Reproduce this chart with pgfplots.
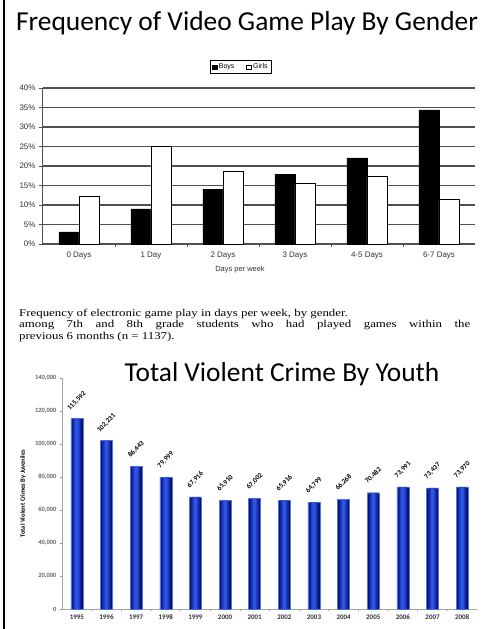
\documentclass[border=0pt]{standalone}
\usepackage{pgfplots}
\usepackage{pgfplotstable}
\pgfplotsset{compat=1.18}
\usepackage{fontspec}
\setmainfont{Liberation Serif}
\newfontfamily\arial{Liberation Sans}
\newfontfamily\calibri{Carlito}

% Frequency of play (percent of students), by gender
\pgfplotstableread{
x boys girls
0 3.1 12.3
1 9.0 24.9
2 14.1 18.5
3 17.9 15.6
4 22.1 17.4
5 34.4 11.5
}\playtable

% Violent crimes by juveniles, 1995-2008
\pgfplotstableread{
x crimes
0 115592
1 102231
2 86443
3 79999
4 67916
5 65910
6 67002
7 65916
8 64799
9 66268
10 70482
11 73991
12 73437
13 73970
}\crimetable

\definecolor{blue1}{RGB}{10,18,95}
\definecolor{blue2}{RGB}{18,36,150}
\definecolor{blue3}{RGB}{30,60,200}
\definecolor{blue4}{RGB}{45,85,225}
\definecolor{gridgray}{RGB}{80,80,80}

\begin{document}
\begin{tikzpicture}
\path[use as bounding box] (0,0) rectangle (485bp,-629bp);
\fill[white] (0,0) rectangle (485bp,-629bp);
\draw[line width=1.2bp] (4bp,0) -- (4bp,-629bp);

% ---------- upper chart ----------
\node[font=\calibri\fontsize{27.5}{27.5}\selectfont] at (247bp,-23bp)
  {Frequency of Video Game Play By Gender};

\begin{axis}[
  at={(43bp,-244bp)}, anchor=south west, scale only axis,
  width=432bp, height=156bp,
  ybar=0pt, bar width=20bp,
  xmin=-0.5, xmax=5.5, ymin=0, ymax=40,
  axis x line=bottom, axis y line=left,
  axis line style={-, line width=1bp, gridgray},
  ytick={0,5,...,40},
  yticklabel={\pgfmathprintnumber{\tick}\%},
  xtick={0,...,5},
  xticklabels={0 Days,1 Day,2 Days,3 Days,4-5 Days,6-7 Days},
  minor xtick={0.5,1.5,...,4.5},
  major x tick style={draw=none},
  minor tick length=3bp, major tick length=4bp,
  tick align=outside,
  tick style={gridgray, line width=0.8bp},
  ymajorgrids, grid style={gridgray, line width=1.3bp},
  ticklabel style={font=\arial\fontsize{8}{8}\selectfont, text=black!80},
  /pgf/number format/assume math mode=true,
  legend columns=2,
  legend style={at={(0.458,1.135)}, anchor=center,
    font=\arial\fontsize{7}{7}\selectfont, draw=black, line width=0.8bp,
    inner sep=1.5bp, /tikz/every even column/.append style={column sep=10bp}},
  legend image code/.code={\draw[#1, line width=0.4bp] (0bp,-2.2bp) rectangle (4.4bp,2.2bp);},
]
\addplot[fill=black, draw=black] table[x=x, y=boys] {\playtable};
\addplot[fill=white, draw=black, line width=0.8bp] table[x=x, y=girls] {\playtable};
\legend{Boys, Girls}
\end{axis}

\node[font=\arial\fontsize{7.5}{7.5}\selectfont, text=black!80] at (240bp,-270bp) {Days per week};

% caption (set in a widened serif)
\begin{scope}[every node/.style={anchor=base west, inner sep=0pt,
    font=\fontsize{10.5}{10.5}\selectfont}]
\node at (19bp,-316bp) {\scalebox{1.23}[1]{Frequency of electronic game play in days per week, by gender.}};
\node at (19bp,-327.7bp) {\scalebox{1.23}[1]{\makebox[366.7bp][s]{among 7th and 8th grade students who had played games within the}}};
\node at (19bp,-339.4bp) {\scalebox{1.23}[1]{previous 6 months (n = 1137).}};
\end{scope}

% ---------- lower chart ----------
\node[font=\calibri\fontsize{27.5}{27.5}\selectfont] at (282bp,-374bp)
  {Total Violent Crime By Youth};

\begin{axis}[
  at={(62bp,-609bp)}, anchor=south west, scale only axis,
  width=415bp, height=231bp,
  ybar,
  xmin=-0.5, xmax=13.5, ymin=0, ymax=140000,
  axis x line=bottom, axis y line=left,
  axis line style={-, line width=0.6bp, black!35},
  ytick={0,20000,...,140000},
  scaled y ticks=false,
  xtick={0,...,13},
  xticklabels={1995,1996,1997,1998,1999,2000,2001,2002,2003,2004,2005,2006,2007,2008},
  minor xtick={0.5,1.5,...,12.5},
  major x tick style={draw=none},
  minor tick length=2bp, major tick length=2bp,
  tick align=outside,
  tick style={black!40, line width=0.6bp},
  yticklabel style={/pgf/number format/fixed, /pgf/number format/1000 sep={,},
    font=\calibri\bfseries\fontsize{6.5}{6.5}\selectfont, text=black!60},
  xticklabel style={font=\calibri\bfseries\fontsize{7}{7}\selectfont, text=black!80},
  /pgf/number format/assume math mode=true,
  ylabel={Total Violent Crimes By Juveniles},
  ylabel style={at={(axis description cs:-0.094,0.5)}, anchor=center,
    font=\calibri\bfseries\fontsize{6.5}{6.5}\selectfont},
]
% each bar is built from nested strips, dark at the edges and bright in the middle
\addplot[bar shift=0pt, bar width=12bp, fill=blue1, draw={rgb,255:red,80;green,120;blue,230}, line width=0.4bp,
  nodes near coords={\pgfmathprintnumber[fixed,1000 sep={,}]{\pgfplotspointmeta}},
  nodes near coords style={yshift=17bp, rotate=45, anchor=center,
    font=\calibri\bfseries\fontsize{7}{7}\selectfont, text=black}]
  table[x=x, y=crimes] {\crimetable};
\addplot[bar shift=0pt, bar width=9bp, fill=blue2, draw=none]
  table[x=x, y expr=\thisrow{crimes}-300] {\crimetable};
\addplot[bar shift=0pt, bar width=6bp, fill=blue3, draw=none]
  table[x=x, y expr=\thisrow{crimes}-300] {\crimetable};
\addplot[bar shift=0pt, bar width=3bp, fill=blue4, draw=none]
  table[x=x, y expr=\thisrow{crimes}-300] {\crimetable};
\end{axis}
\end{tikzpicture}
\end{document}
